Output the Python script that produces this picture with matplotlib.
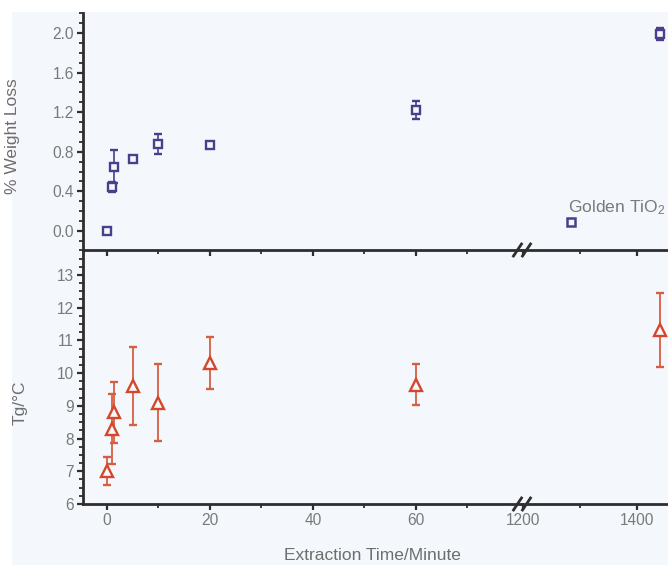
import matplotlib
matplotlib.use("Agg")
import matplotlib.pyplot as plt
from matplotlib.ticker import FixedLocator, MultipleLocator, NullFormatter
from matplotlib.lines import Line2D
from matplotlib.patches import Rectangle

plt.rcParams['font.family'] = ['Liberation Sans', 'DejaVu Sans']
plt.rcParams['mathtext.fontset'] = 'custom'
plt.rcParams['mathtext.rm'] = 'Liberation Sans'

# Weight loss (%) vs extraction time (min)
wl_time = [0, 0.9, 1.35, 5, 10, 20, 60, 1440]
wl_value = [0.0, 0.44, 0.65, 0.73, 0.88, 0.87, 1.22, 1.99]
wl_err = [0.0, 0.05, 0.17, 0.0, 0.10, 0.0, 0.09, 0.06]

# Reference pigment
golden_time = [1285]
golden_value = [0.09]
golden_label = "Golden TiO$\\mathregular{_2}$"

# Glass transition temperature vs extraction time
tg_time = [0, 0.9, 1.35, 5, 10, 20, 60, 1440]
tg_value = [7.0, 8.3, 8.8, 9.6, 9.1, 10.3, 9.65, 11.33]
tg_err = [0.43, 1.07, 0.93, 1.2, 1.17, 0.8, 0.63, 1.13]

x_major_left = [0, 20, 40, 60]
x_minor_left = [10, 30, 50, 70]
x_major_right = [1200, 1400]
x_minor_right = [1300]

purple = '#4a3f8c'
red = '#d4472a'
red_bar = '#d65e44'
gray = '#7a7a7a'
spine_c = '#2e2e2e'
bg = '#f4f7fb'

W, H = 668, 565
fig = plt.figure(figsize=(W / 100, H / 100), dpi=100)
fig.patch.set_facecolor('white')
fig.add_artist(Rectangle((12 / W, 0), 1 - 12 / W, 1 - 12 / H,
                         transform=fig.transFigure, facecolor=bg,
                         edgecolor='none', zorder=-10))

x0, xb, x1 = 83 / W, 522 / W, 1.0
top_b, top_t = 1 - 250 / H, 1 - 13 / H
bot_b, bot_t = 1 - 504 / H, 1 - 250 / H

axTL = fig.add_axes([x0, top_b, xb - x0, top_t - top_b])
axTR = fig.add_axes([xb, top_b, x1 - xb, top_t - top_b])
axBL = fig.add_axes([x0, bot_b, xb - x0, bot_t - bot_b])
axBR = fig.add_axes([xb, bot_b, x1 - xb, bot_t - bot_b])

left_xlim = (-4.66, 80.66)
right_xlim = (1198.2, 1454.4)

for ax in (axTL, axTR, axBL, axBR):
    ax.set_facecolor('none')
    for s in ax.spines.values():
        s.set_color(spine_c)
        s.set_linewidth(2.0)
    ax.spines['top'].set_visible(False)
    ax.spines['right'].set_visible(False)
    ax.tick_params(which='both', direction='out', color=spine_c,
                   labelcolor=gray, labelsize=11.2)
    ax.tick_params(which='major', length=4.5, width=1.6, pad=2)
    ax.tick_params(which='minor', length=2.8, width=1.3)

for ax in (axTL, axBL):
    ax.set_xlim(*left_xlim)
    ax.xaxis.set_major_locator(FixedLocator(x_major_left))
    ax.xaxis.set_minor_locator(FixedLocator(x_minor_left))
for ax in (axTR, axBR):
    ax.set_xlim(*right_xlim)
    ax.xaxis.set_major_locator(FixedLocator(x_major_right))
    ax.xaxis.set_minor_locator(FixedLocator(x_minor_right))
    ax.spines['left'].set_visible(False)
    ax.tick_params(axis='y', which='both', left=False, labelleft=False)

for ax in (axTL, axTR):
    ax.set_ylim(-0.192, 2.202)
    ax.xaxis.set_major_formatter(NullFormatter())
    ax.yaxis.set_major_locator(MultipleLocator(0.4))
    ax.yaxis.set_minor_locator(MultipleLocator(0.1))
axTL.yaxis.set_major_formatter(plt.FuncFormatter(lambda v, p: f"{v:.1f}"))

for ax in (axBL, axBR):
    ax.set_ylim(6, 13.76)
    ax.yaxis.set_major_locator(MultipleLocator(1))
    ax.yaxis.set_minor_locator(MultipleLocator(0.25))

# Weight loss series
for ax in (axTL, axTR):
    ax.errorbar(wl_time, wl_value, yerr=wl_err, fmt='s', ms=6,
                mfc=bg, mec=purple, mew=1.7, ecolor=purple,
                elinewidth=1.2, capsize=3, capthick=1.2, clip_on=False,
                zorder=3)
axTR.plot(golden_time, golden_value, 's', ms=5.4, mfc=bg, mec=purple,
          mew=1.8)
axTR.text(1279, 0.235, golden_label, color=gray, fontsize=12.6,
          ha='left', va='center')

# Tg series
for ax in (axBL, axBR):
    ax.errorbar(tg_time, tg_value, yerr=tg_err, fmt='^', ms=9,
                mfc=bg, mec=red, mew=1.7, ecolor=red_bar,
                elinewidth=1.3, capsize=2.6, capthick=1.3, clip_on=False,
                zorder=3)

axTL.set_ylabel('% Weight Loss', color='#6e6e6e', fontsize=12.5)
axTL.yaxis.set_label_coords(-0.1435, 0.48)
axBL.set_ylabel('Tg/°C', color='#6e6e6e', fontsize=12.5)
axBL.yaxis.set_label_coords(-0.125, 0.40)
fig.text(372 / W, 1 - 555 / H, 'Extraction Time/Minute', color='#6e6e6e',
         fontsize=12.5, ha='center', va='center')

# Axis break marks on the two horizontal axes
for yb in (top_b, bot_b):
    for dx in (-4.5 / W, 4.5 / W):
        cx = xb + dx
        fig.add_artist(Line2D([cx - 4 / W, cx + 4 / W],
                              [yb - 6 / H, yb + 6 / H],
                              transform=fig.transFigure, color=spine_c,
                              lw=2.0, zorder=5))

fig.savefig('out.png', dpi=100, facecolor=fig.get_facecolor())
